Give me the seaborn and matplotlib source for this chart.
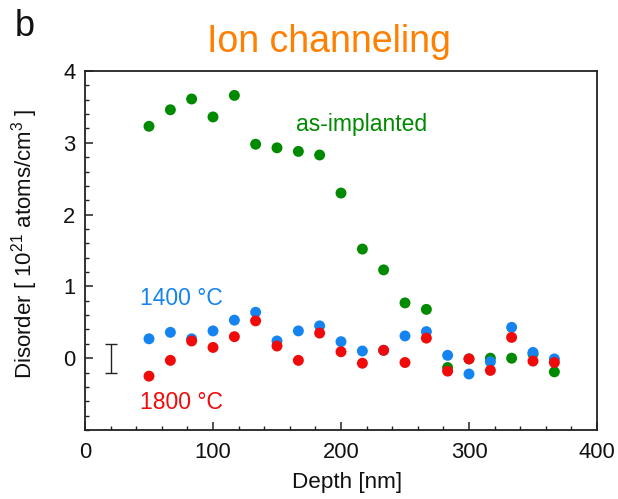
import numpy as np
import pandas as pd
import matplotlib
matplotlib.use("Agg")
import matplotlib.pyplot as plt
from matplotlib.ticker import MultipleLocator
import seaborn as sns

# Depth positions of the channeling spectra bins [nm]
depth = [50, 66.7, 83.3, 100, 116.7, 133.3, 150, 166.7, 183.3, 200,
         216.7, 233.3, 250, 266.7, 283.3, 300, 316.7, 333.3, 350, 366.7]

# Disorder [1e21 atoms/cm^3]
as_implanted = [3.23, 3.46, 3.61, 3.36, 3.66, 2.98, 2.93, 2.88, 2.83, 2.30,
                1.52, 1.23, 0.77, 0.68, -0.13, -0.01, 0.00, 0.00, 0.06, -0.19]
annealed_1400 = [0.27, 0.36, 0.27, 0.38, 0.53, 0.64, 0.24, 0.38, 0.45, 0.23,
                 0.10, 0.11, 0.31, 0.37, 0.04, -0.22, -0.05, 0.43, 0.08, -0.01]
annealed_1800 = [-0.25, -0.03, 0.24, 0.15, 0.30, 0.52, 0.17, -0.03, 0.35, 0.09,
                 -0.07, 0.11, -0.06, 0.28, -0.18, -0.01, -0.17, 0.29, -0.04, -0.06]

series_names = ["as-implanted", "1400 °C", "1800 °C"]
series_colors = ["#008a00", "#1584f0", "#f00a0a"]

# Typical uncertainty of a disorder value
err_x, err_y, err_half = 20, 0.0, 0.2

df = pd.concat([
    pd.DataFrame({"Depth": depth, "Disorder": vals, "Sample": name})
    for name, vals in zip(series_names, [as_implanted, annealed_1400, annealed_1800])
], ignore_index=True)

sns.set_style("white")
plt.rcParams["font.family"] = ["Liberation Sans", "DejaVu Sans"]
plt.rcParams["mathtext.fontset"] = "custom"
plt.rcParams["mathtext.rm"] = "Liberation Sans"
plt.rcParams["mathtext.default"] = "regular"

fig = plt.figure(figsize=(6.18, 4.99), dpi=100)
ax = fig.add_axes([85 / 618, 1 - 430 / 499, (597 - 85) / 618, (430 - 71) / 499])

sns.scatterplot(data=df, x="Depth", y="Disorder", hue="Sample",
                palette=dict(zip(series_names, series_colors)),
                s=62, linewidth=0, legend=False, ax=ax, zorder=3)

ax.errorbar([err_x], [err_y], yerr=[err_half], fmt="none", ecolor="#222222",
            elinewidth=1.0, capsize=4.5, capthick=1.0)

ax.set_xlim(0, 400)
ax.set_ylim(-1, 4)
ax.xaxis.set_major_locator(MultipleLocator(100))
ax.xaxis.set_minor_locator(MultipleLocator(20))
ax.set_yticks([0, 1, 2, 3, 4])
ax.yaxis.set_minor_locator(MultipleLocator(0.2))
ax.tick_params(axis="both", which="both", direction="in", labelsize=15.8,
               color="#222222", labelcolor="#111111",
               bottom=True, left=True, top=False, right=False)
ax.tick_params(which="major", length=6, width=1.1)
ax.tick_params(which="minor", length=3, width=1.0)
ax.tick_params(axis="x", which="major", pad=8.5)
ax.tick_params(axis="y", which="major", pad=7)
for sp in ax.spines.values():
    sp.set_color("#222222")
    sp.set_linewidth(1.3)

ax.set_xlabel("Depth [nm]", fontsize=16.2, color="#111111")
ax.set_ylabel("Disorder [ 10$^{21}$ atoms/cm$^{3}$ ]", fontsize=16,
              color="#111111")
ax.xaxis.set_label_coords(0.512, -0.118)
ax.yaxis.set_label_coords(-0.087, 0.52)

ax.text(165, 3.25, "as-implanted", color=series_colors[0], fontsize=16.5,
        va="center", ha="left")
ax.text(43, 0.83, "1400 °C", color=series_colors[1], fontsize=16.5,
        va="center", ha="left")
ax.text(43, -0.62, "1800 °C", color=series_colors[2], fontsize=16.5,
        va="center", ha="left")

fig.text(329 / 618, 1 - 52 / 499, "Ion channeling", color="#ff8000",
         fontsize=27, ha="center", va="baseline")
fig.text(15 / 618, 1 - 36 / 499, "b", color="#111111", fontsize=26,
         ha="left", va="baseline")

fig.savefig("out.png", dpi=100)
